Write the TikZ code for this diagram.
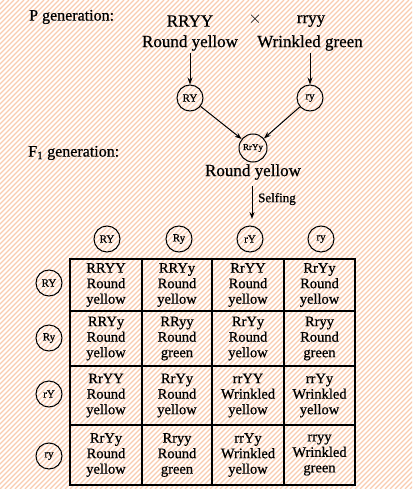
\documentclass[tikz,border=0pt]{standalone}
\usepackage{fontspec}
\setmainfont{Liberation Serif}[FakeBold=0.7]
\usetikzlibrary{arrows.meta}
\definecolor{hatchc}{RGB}{249,204,176}
\tikzset{
  hatch/.style={draw=hatchc,line width=1.15pt},
  gam/.style={circle,draw,line width=1pt,minimum size=26pt,inner sep=0pt,font=\fontsize{11}{11}\selectfont},
  big/.style={font=\fontsize{17}{19}\selectfont,inner sep=0pt},
  cell/.style={align=center,inner sep=0pt,font=\fontsize{14.5}{15.5}\selectfont},
  arr/.style={line width=1pt,-{Stealth[length=7pt,width=5pt]}},
  grid/.style={line width=1.5pt}
}
\begin{document}
\begin{tikzpicture}[x=1pt,y=-1pt]
\useasboundingbox (0,0) rectangle (412,489);
\fill[white] (0,0) rectangle (412,489);
\begin{scope}
\clip (0,0) rectangle (412,489);
\foreach \k in {-500,-495,...,420} \draw[hatch] (\k,489) -- (\k+489,0);
\end{scope}
% P generation
\node[big,anchor=west,font=\fontsize{16}{18}\selectfont] (plab) at (29,17) {P generation:};
\node[big] (p1) at (190,21) {RRYY};
\node[big] (cross) at (255,19) {$\times$};
\node[big] (p2) at (311,21) {rryy};
\node[big] (p1t) at (190,43) {Round yellow};
\node[big] (p2t) at (310,43) {Wrinkled green};
\node[gam] (gRY) at (190,98) {RY};
\node[gam] (gry) at (310,98) {ry};
\coordinate (a1) at (190,53);
\coordinate (a2) at (310,53);
\draw[arr] (a1) -- (gRY);
\draw[arr] (a2) -- (gry);
% F1
\node[big,anchor=west,font=\fontsize{16}{18}\selectfont] (flab) at (28,153) {F\textsubscript{1} generation:};
\node[gam,minimum size=28pt,font=\fontsize{9}{9}\selectfont] (f1) at (253,148) {RrYy};
\draw[arr] (gRY) -- (f1);
\draw[arr] (gry) -- (f1);
\node[big] (f1t) at (253,172) {Round yellow};
\coordinate (s1) at (252,186);
\coordinate (s2) at (252,219);
\draw[arr] (s1) -- (s2);
\node[anchor=west,inner sep=0pt,font=\fontsize{13}{14}\selectfont] (self) at (258,199) {Selfing};
% column gametes
\node[gam] (c1) at (107,239) {RY};
\node[gam] (c2) at (179,239) {Ry};
\node[gam] (c3) at (250,239) {rY};
\node[gam] (c4) at (321,239) {ry};
% row gametes
\node[gam] (r1) at (49,283) {RY};
\node[gam] (r2) at (49,338) {Ry};
\node[gam] (r3) at (49,394) {rY};
\node[gam] (r4) at (49,456) {ry};
% grid
\draw[grid] (70,259) rectangle (355,485);
\draw[grid] (142,259) -- (142,485) (212,259) -- (212,485) (284,259) -- (284,485);
\draw[grid] (70,311) -- (355,311) (70,366) -- (355,366) (70,425) -- (355,425);
% cells
\node[cell] (k11) at (106,285) {RRYY\\Round\\yellow};
\node[cell] (k12) at (177,285) {RRYy\\Round\\yellow};
\node[cell] (k13) at (248,285) {RrYY\\Round\\yellow};
\node[cell] (k14) at (319.5,285) {RrYy\\Round\\yellow};
\node[cell] (k21) at (106,338.5) {RRYy\\Round\\yellow};
\node[cell] (k22) at (177,338.5) {RRyy\\Round\\green};
\node[cell] (k23) at (248,338.5) {RrYy\\Round\\yellow};
\node[cell] (k24) at (319.5,338.5) {Rryy\\Round\\green};
\node[cell] (k31) at (106,395.5) {RrYY\\Round\\yellow};
\node[cell] (k32) at (177,395.5) {RrYy\\Round\\yellow};
\node[cell] (k33) at (248,395.5) {rrYY\\Wrinkled\\yellow};
\node[cell] (k34) at (319.5,395.5) {rrYy\\Wrinkled\\yellow};
\node[cell] (k41) at (106,455) {RrYy\\Round\\yellow};
\node[cell] (k42) at (177,455) {Rryy\\Round\\green};
\node[cell] (k43) at (248,455) {rrYy\\Wrinkled\\yellow};
\node[cell] (k44) at (319.5,455) {rryy\\Wrinkled\\green};
\end{tikzpicture}
\end{document}
